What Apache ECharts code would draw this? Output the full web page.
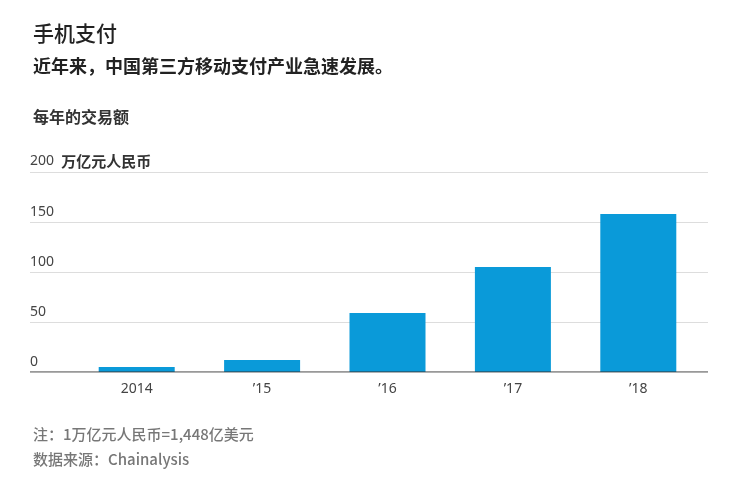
<!DOCTYPE html>
<html><head><meta charset="utf-8">
<script src="https://cdn.jsdelivr.net/npm/echarts@6/dist/echarts.min.js"></script>
<style>html,body{margin:0;padding:0;background:#fff}#c{width:734px;height:485px}</style>
</head><body><div id="c"></div>
<script>
const categories = ['2014', '\u201915', '\u201916', '\u201917', '\u201918'];
const values = [5, 12, 59, 105, 158];
const yTicks = [0, 50, 100, 150, 200];
const F = '"Noto Sans CJK SC","Noto Sans",sans-serif';
const FL = '"Noto Sans","Noto Sans CJK SC",sans-serif';
const chart = echarts.init(document.getElementById('c'));
chart.setOption({
  animation: false,
  textStyle: {fontFamily: F},
  title: [
    {text: '手机支付', left: 28, top: 18, textStyle: {fontSize: 21, fontWeight: 500, color: '#222', fontFamily: F}},
    {text: '近年来，中国第三方移动支付产业急速发展。', left: 28, top: 52, textStyle: {fontSize: 18, fontWeight: 'bold', color: '#222', fontFamily: F}},
    {text: '每年的交易额', left: 28, top: 104, textStyle: {fontSize: 16, fontWeight: 'bold', color: '#333', fontFamily: F}},
    {text: '注：1万亿元人民币=1,448亿美元', left: 28, top: 422, textStyle: {fontSize: 15, fontWeight: 500, color: '#777', fontFamily: F}},
    {text: '数据来源：Chainalysis', left: 28, top: 447, textStyle: {fontSize: 15, fontWeight: 500, color: '#777', fontFamily: F}}
  ],
  grid: [
    {left: 30, right: 26, top: 172, height: 200},
    {left: 74, right: 33, top: 172, height: 200}
  ],
  xAxis: [
    {gridIndex: 0, type: 'value', show: false, min: 0, max: 1},
    {gridIndex: 1, type: 'category', data: categories,
     axisLine: {show: false}, axisTick: {show: false},
     axisLabel: {color: '#444', fontSize: 14, margin: 10, fontFamily: FL}}
  ],
  yAxis: [
    {gridIndex: 0, type: 'value', min: 0, max: 200, interval: 50,
     axisLine: {show: false}, axisTick: {show: false},
     splitLine: {lineStyle: {color: '#ddd'}},
     axisLabel: {inside: true, verticalAlign: 'bottom', margin: 0, padding: [0,0,3,0], color: '#444', fontSize: 14, fontFamily: FL,
       formatter: v => v === 200 ? '{a|200}  {b|万亿元人民币}' : String(v),
       rich: {a: {fontSize: 14, color: '#444', fontFamily: FL}, b: {fontSize: 15, color: '#333', fontWeight: 'bold', fontFamily: F}}}},
    {gridIndex: 1, type: 'value', min: 0, max: 200, show: false}
  ],
  series: [
    {type: 'line', xAxisIndex: 0, yAxisIndex: 0, data: [[0,0],[1,0]], symbol: 'none', lineStyle: {color: '#333', width: 1}, silent: true, z: 5},
    {type: 'bar', xAxisIndex: 1, yAxisIndex: 1, data: values, barWidth: 76, itemStyle: {color: '#0a9ad9'}}
  ]
});
</script></body></html>
